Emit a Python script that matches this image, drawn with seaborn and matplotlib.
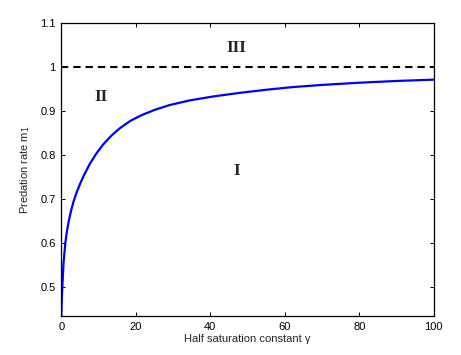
import matplotlib
matplotlib.use("Agg")
import matplotlib.pyplot as plt
import seaborn as sns
import pandas as pd

# Data
gamma = [0, 0.1, 0.27, 0.6, 1.07, 1.5, 2.0, 2.6, 3.3, 4.1, 5.0, 6.0, 7.7, 9.5,
         11.3, 13.5, 15.8, 18.5, 21.5, 25, 29, 34.6, 41, 48, 55, 62, 70, 80,
         90, 100]
m1 = [0.434, 0.465, 0.50, 0.555, 0.60, 0.626, 0.65, 0.673, 0.695, 0.715, 0.734,
      0.753, 0.781, 0.805, 0.825, 0.845, 0.862, 0.878, 0.891, 0.903, 0.914,
      0.925, 0.934, 0.942, 0.949, 0.955, 0.960, 0.965, 0.969, 0.972]
threshold_x = [0, 100]
threshold_y = [1, 1]
xticks = [0, 20, 40, 60, 80, 100]
yticks = [0.5, 0.6, 0.7, 0.8, 0.9, 1.0, 1.1]
ytick_labels = ["0.5", "0.6", "0.7", "0.8", "0.9", "1", "1.1"]
regions = ["III", "II", "I"]
region_x = [46.9, 10.8, 47.1]
region_y = [1.045, 0.933, 0.764]

sns.set_theme(style="white")
plt.rcParams["font.family"] = ["Liberation Sans", "DejaVu Sans"]

fig = plt.figure(figsize=(4.61, 3.55), dpi=100)
ax = fig.add_axes([0.133, 0.110, 0.808, 0.824])

df = pd.DataFrame({"gamma": gamma, "m1": m1})
sns.lineplot(data=df, x="gamma", y="m1", ax=ax, color=(0, 0, 1), lw=1.6,
             estimator=None, sort=False)
dfl = pd.DataFrame({"x": threshold_x, "y": threshold_y})
sns.lineplot(data=dfl, x="x", y="y", ax=ax, color="black", lw=1.5,
             estimator=None, sort=False, dashes=False)
ax.lines[-1].set_dashes((3.5, 2.4))

for t, x, y in zip(regions, region_x, region_y):
    ax.text(x, y, t, ha="center", va="center", fontsize=12.5, fontweight="bold",
            family=["Liberation Serif", "DejaVu Serif"])

ax.set_xlim(0, 100)
ax.set_ylim(0.434, 1.1)
ax.set_xticks(xticks)
ax.set_xticklabels([str(v) for v in xticks])
ax.set_yticks(yticks)
ax.set_yticklabels(ytick_labels)
ax.tick_params(axis="both", direction="in", length=3, width=0.7, labelsize=8,
               top=True, right=True, bottom=True, left=True, colors="black", pad=4)
for s in ax.spines.values():
    s.set_color("black")
    s.set_linewidth(0.9)
ax.set_xlabel("Half saturation constant γ", fontsize=8, labelpad=2)
ax.set_ylabel("Predation rate m$_1$", fontsize=8, labelpad=6)

fig.savefig("out.png", dpi=100)
